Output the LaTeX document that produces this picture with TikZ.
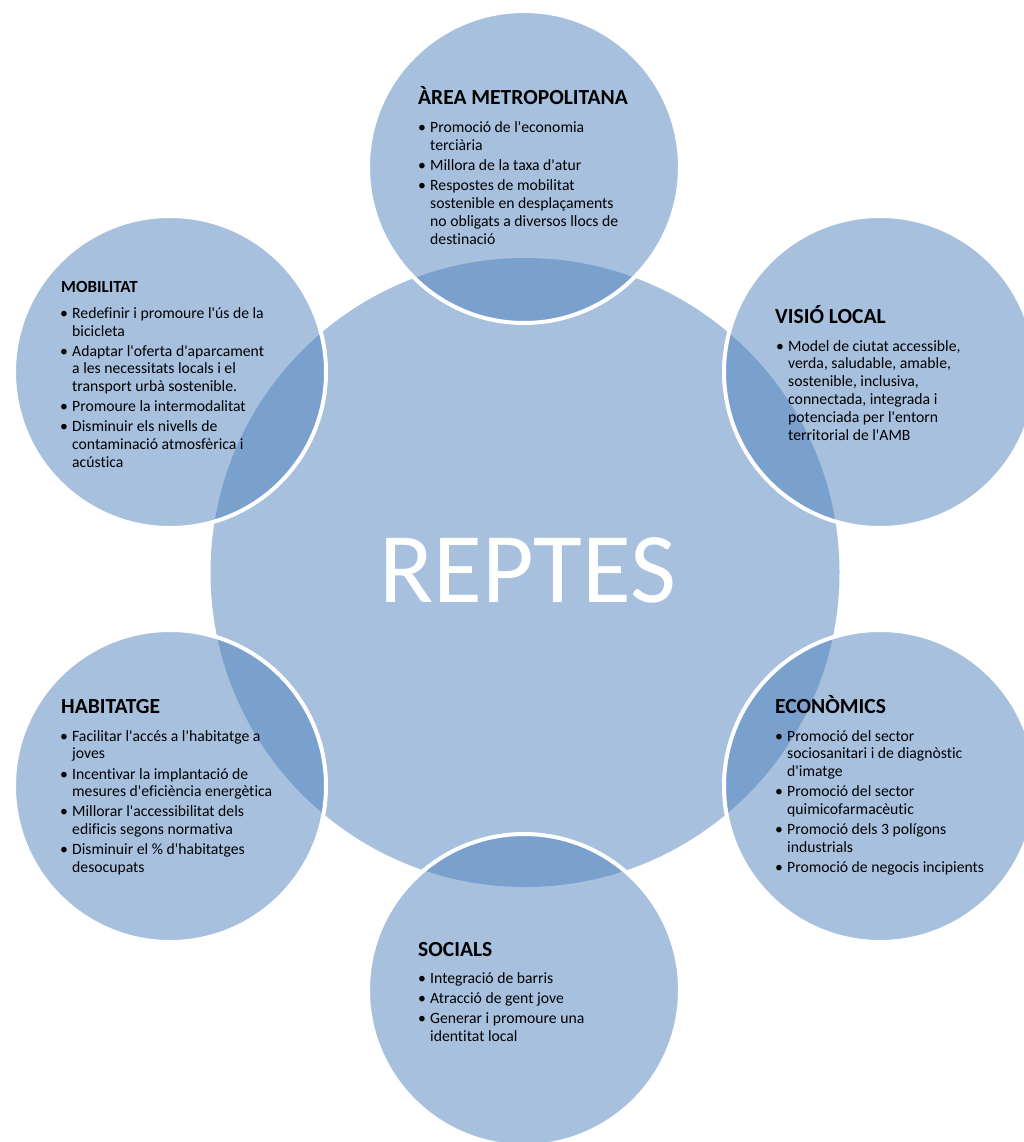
\documentclass[tikz,border=0pt]{standalone}
\usepackage{fontspec}
\setmainfont{Carlito}[Ligatures=CommonOff]
\definecolor{acc}{HTML}{4F81BD}
\newcommand\apo{\textquotesingle}
\newcommand\bl[4]{%
  \node[bul] (#1b) at (#2-12,#3) {\textbullet};
  \node[txt] (#1) at (#2,#3) {\begin{tabular}[t]{@{}l@{}}#4\end{tabular}};}
\begin{document}
\begin{tikzpicture}[x=1pt,y=-1pt,
  hub/.style={circle, fill=acc, fill opacity=0.5, draw=none, minimum size=629pt, inner sep=0},
  sat/.style={circle, fill=acc, fill opacity=0.5, draw=white, draw opacity=1, line width=4pt, minimum size=312pt, inner sep=0},
  ttl/.style={anchor=base west, inner sep=0, font=\fontsize{21.5}{24}\selectfont\bfseries, text=black},
  ttls/.style={anchor=base west, inner sep=0, font=\fontsize{17}{20}\selectfont\bfseries, text=black},
  txt/.style={anchor=base west, inner sep=0, font=\fontsize{15.7}{17.8}\selectfont, text=black},
  bul/.style={anchor=base west, inner sep=0, font=\fontsize{15.7}{17.8}\selectfont, text=black},
  big/.style={inner sep=0, font=\fontsize{100}{100}\selectfont, text=white}]
\useasboundingbox (0,0) rectangle (1023,1142);
% circles
\node[hub] (hub) at (525,572.5) {};
\node[big] (reptes) at (528,570) {REPTES};
\node[sat] (area) at (524,167) {};
\node[sat] (mob) at (170,372) {};
\node[sat] (vis) at (880,372) {};
\node[sat] (hab) at (170,786) {};
\node[sat] (eco) at (880,786) {};
\node[sat] (soc) at (524,990) {};
% AREA METROPOLITANA
\node[ttl] (t1) at (418,105) {ÀREA METROPOLITANA};
\bl{a1}{430}{132.7}{Promoció de l\apo{}economia\\terciària}
\bl{a2}{430}{170.7}{Millora de la taxa d\apo{}atur}
\bl{a3}{430}{190.7}{Respostes de mobilitat\\sostenible en desplaçaments\\no obligats a diversos llocs de\\destinació}
% MOBILITAT
\node[ttls] (t2) at (61,292) {MOBILITAT};
\bl{m1}{72}{318.3}{Redefinir i promoure l\apo{}ús de la\\bicicleta}
\bl{m2}{72}{356}{Adaptar l\apo{}oferta d\apo{}aparcament\\a les necessitats locals i el\\transport urbà sostenible.}
\bl{m3}{72}{411.7}{Promoure la intermodalitat}
\bl{m4}{72}{431.7}{Disminuir els nivells de\\contaminació atmosfèrica i\\acústica}
% VISIO LOCAL
\node[ttl] (t3) at (775,323) {VISIÓ LOCAL};
\bl{v1}{788}{351}{Model de ciutat accessible,\\verda, saludable, amable,\\sostenible, inclusiva,\\connectada, integrada i\\potenciada per l\apo{}entorn\\territorial de l\apo{}AMB}
% HABITATGE
\node[ttl] (t4) at (61,713) {HABITATGE};
\bl{h1}{72}{741}{Facilitar l\apo{}accés a l\apo{}habitatge a\\joves}
\bl{h2}{72}{779}{Incentivar la implantació de\\mesures d\apo{}eficiència energètica}
\bl{h3}{72}{816.7}{Millorar l\apo{}accessibilitat dels\\edificis segons normativa}
\bl{h4}{72}{854.3}{Disminuir el \% d\apo{}habitatges\\desocupats}
% ECONOMICS
\node[ttl] (t5) at (775,713) {ECONÒMICS};
\bl{e1}{787}{741}{Promoció del sector\\sociosanitari i de diagnòstic\\d\apo{}imatge}
\bl{e2}{787}{796.7}{Promoció del sector\\quimicofarmacèutic}
\bl{e3}{787}{834.3}{Promoció dels 3 polígons\\industrials}
\bl{e4}{787}{872.3}{Promoció de negocis incipients}
% SOCIALS
\node[ttl] (t6) at (418,956) {SOCIALS};
\bl{s1}{430}{983.3}{Integració de barris}
\bl{s2}{430}{1003.3}{Atracció de gent jove}
\bl{s3}{430}{1023.3}{Generar i promoure una\\identitat local}
\end{tikzpicture}
\end{document}
